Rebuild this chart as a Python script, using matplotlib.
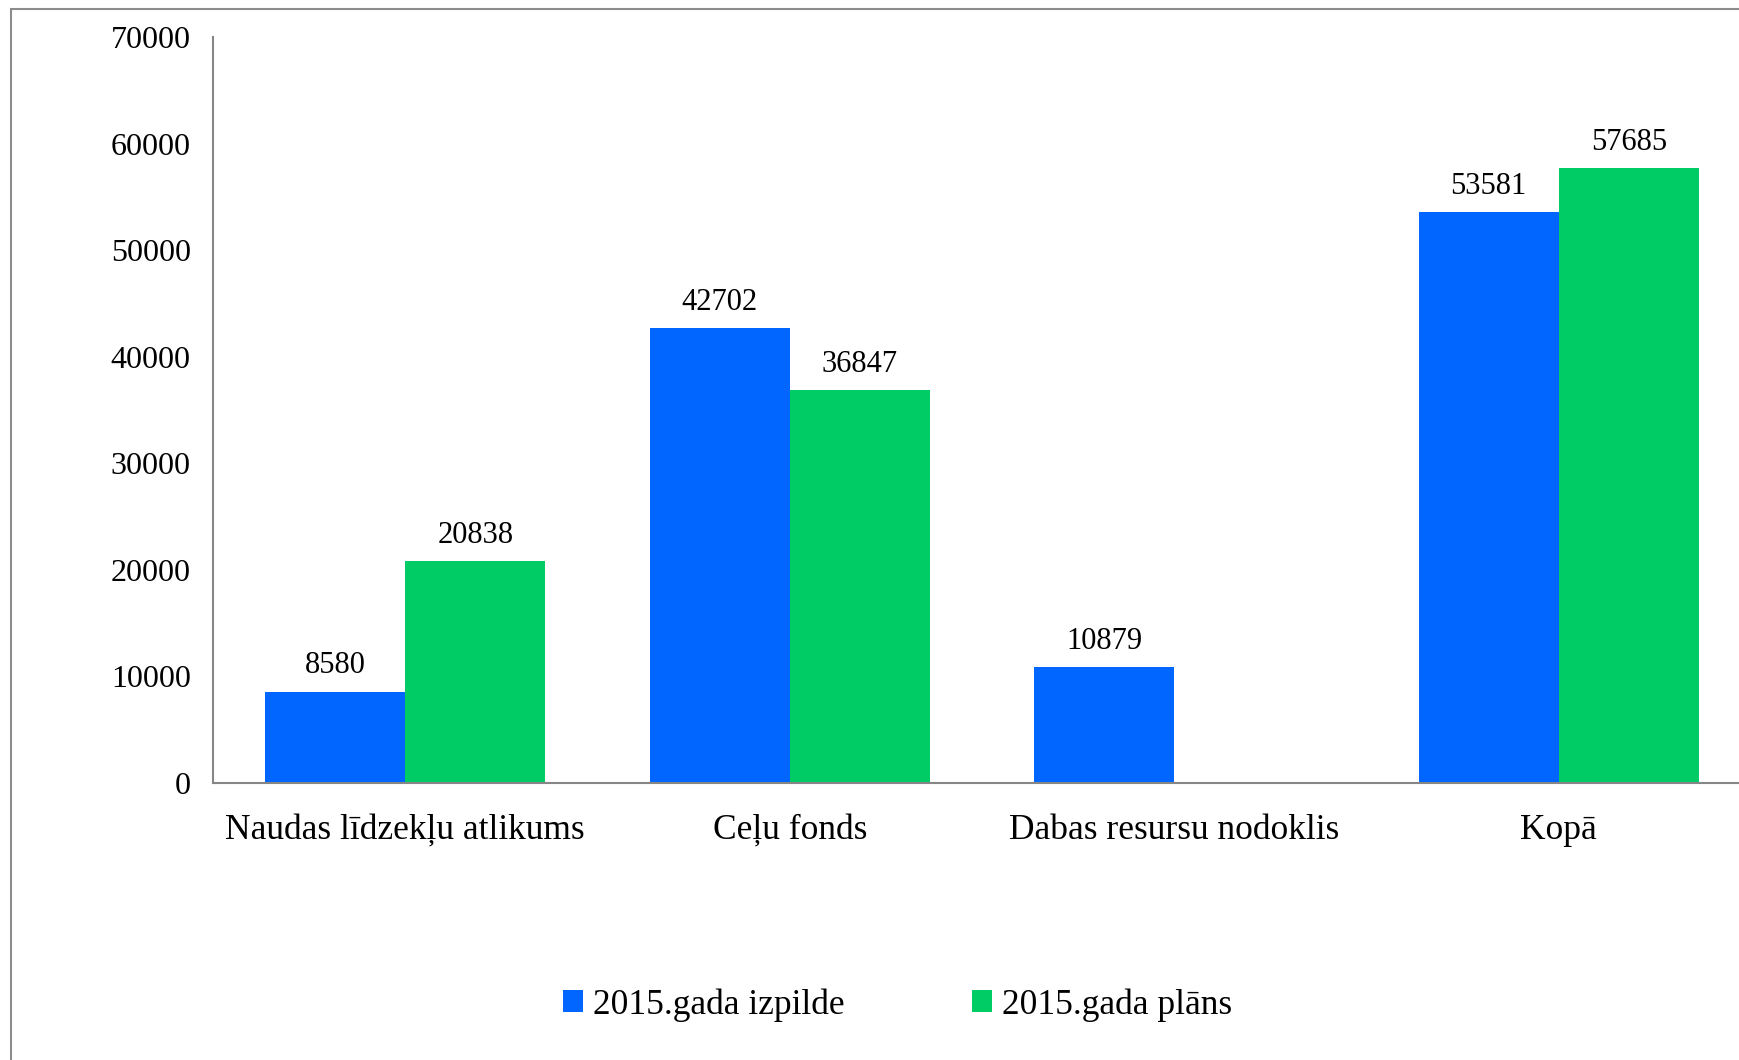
import matplotlib
matplotlib.use('Agg')
import matplotlib.pyplot as plt
import numpy as np
from matplotlib.patches import Rectangle

# dati
categories = ['Naudas līdzekļu atlikums', 'Ceļu fonds', 'Dabas resursu nodoklis', 'Kopā']
izpilde = [8580, 42702, 10879, 53581]
plans = [20838, 36847, None, 57685]
series_names = ['2015.gada izpilde', '2015.gada plāns']
y_ticks = [0, 10000, 20000, 30000, 40000, 50000, 60000, 70000]

plt.rcParams['font.family'] = ['Liberation Serif', 'DejaVu Serif']

fig = plt.figure(figsize=(17.4, 10.6), dpi=100)
ax = fig.add_axes([0.1224, 0.2613, 0.8839, 0.7038])

x = np.arange(len(categories))
w = 0.364
blue = '#0066FF'
green = '#00CC66'

plans_vals = [np.nan if v is None else v for v in plans]
b1 = ax.bar(x - w / 2, izpilde, w, color=blue, label=series_names[0])
b2 = ax.bar(x + w / 2, plans_vals, w, color=green, label=series_names[1])

for rect, v in zip(b1, izpilde):
    ax.annotate(str(v), (rect.get_x() + rect.get_width() / 2, v),
                xytext=(0, 8), textcoords='offset points',
                ha='center', va='bottom', fontsize=22)
for rect, v in zip(b2, plans):
    if v is None:
        continue
    ax.annotate(str(v), (rect.get_x() + rect.get_width() / 2, v),
                xytext=(0, 8), textcoords='offset points',
                ha='center', va='bottom', fontsize=22)

ax.set_xlim(-0.5, len(categories) - 0.5)
ax.set_ylim(0, 70000)
ax.set_yticks(y_ticks)
ax.set_yticklabels([str(t) for t in y_ticks], fontsize=23)
ax.set_xticks(x)
ax.set_xticklabels(categories, fontsize=25.5)
ax.tick_params(axis='y', length=0, pad=16)
ax.tick_params(axis='x', length=0, pad=22)

for s in ['top', 'right']:
    ax.spines[s].set_visible(False)
for s in ['left', 'bottom']:
    ax.spines[s].set_color('#868686')
    ax.spines[s].set_linewidth(1.5)

fig.legend(handles=[b1, b2], labels=series_names, loc='center',
           bbox_to_anchor=(0.516, 0.052), ncol=2, frameon=False,
           fontsize=25.5, handlelength=0.55, handleheight=0.55,
           handletextpad=0.3, columnspacing=3.6)

# ramis ap diagrammu
fig.patches.append(Rectangle((11 / 1740, -0.1), 1.2, 1.1 - 9 / 1060,
                             transform=fig.transFigure, fill=False,
                             edgecolor='#8c8c8c', linewidth=1.5))

fig.savefig('out.png', dpi=100)
